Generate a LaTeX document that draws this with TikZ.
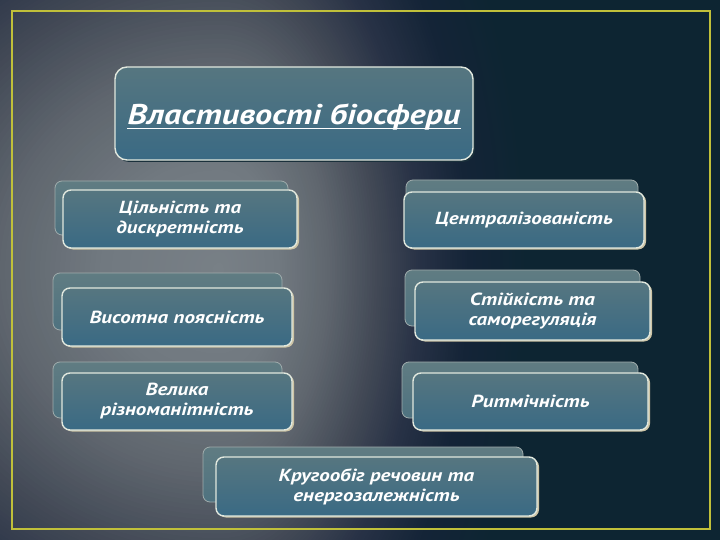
\documentclass[tikz,border=0pt]{standalone}
\usepackage{fontspec}
\setmainfont{PT Sans}[FakeStretch=1.2]
\definecolor{boxtop}{RGB}{86,118,128}
\definecolor{boxbot}{RGB}{58,106,132}
\definecolor{backtop}{RGB}{96,124,130}
\definecolor{backbot}{RGB}{78,114,128}
\definecolor{edgecream}{RGB}{225,232,222}
\definecolor{backedge}{RGB}{160,172,172}
\definecolor{beige}{RGB}{205,196,165}
\definecolor{frameyellow}{RGB}{192,192,58}
\definecolor{bgA}{RGB}{120,128,134}
\definecolor{bgB}{RGB}{113,121,128}
\definecolor{bgC}{RGB}{95,102,110}
\definecolor{bgD}{RGB}{65,72,85}
\definecolor{bgE}{RGB}{40,50,70}
\definecolor{bgF}{RGB}{20,36,55}
\definecolor{bgG}{RGB}{13,37,50}
\newcommand\bgring[4]{%
  \foreach \i in {0,...,20}{%
    \pgfmathsetmacro\rr{#2-(#2-#1)*\i/20}%
    \pgfmathsetmacro\ry{1.85*\rr}%
    \pgfmathsetmacro\pp{100-5*\i}%
    \fill[#4!\pp!#3] (220,{-270+\ry})
      arc[start angle=90, end angle=-90, x radius=\rr, y radius=\ry]
      arc[start angle=270, end angle=90, x radius={2*\rr}, y radius=\ry] -- cycle;}}
\tikzset{
  backbox/.style={rectangle, rounded corners=7pt, inner sep=0pt,
    top color=backtop, bottom color=backbot, draw=backedge, line width=0.8pt},
  frontbox/.style={rectangle, rounded corners=8pt, inner sep=0pt,
    top color=boxtop, bottom color=boxbot, draw=edgecream, line width=1.4pt,
    preaction={fill=beige, transform canvas={xshift=2pt,yshift=-1.5pt}},
    text=white, align=center,
    font=\fontsize{17.5}{20}\selectfont\bfseries\itshape},
  titlebox/.style={rectangle, rounded corners=12pt, inner sep=0pt,
    top color=boxtop, bottom color=boxbot, draw=edgecream, line width=1.4pt,
    preaction={fill=black!55!boxbot, transform canvas={xshift=2pt,yshift=-2pt}}},
  titletxt/.style={text=white, inner sep=0pt, anchor=base,
    font=\fontsize{28.5}{32}\selectfont\bfseries\itshape},
  frame/.style={draw=frameyellow, line width=2pt}
}
\begin{document}
\begin{tikzpicture}[x=1pt,y=-1pt]
\useasboundingbox (0,0) rectangle (720,540);
\begin{scope}
\clip (0,0) rectangle (720,540);
\fill[bgG] (0,0) rectangle (720,540);
\begin{scope}[y=1pt]
\bgring{250}{310}{bgF}{bgG}
\bgring{200}{250}{bgE}{bgF}
\bgring{160}{200}{bgD}{bgE}
\bgring{110}{160}{bgC}{bgD}
\bgring{60}{110}{bgB}{bgC}
\bgring{1}{60}{bgA}{bgB}
\end{scope}
\end{scope}
\node[frame, rectangle, minimum width=698pt, minimum height=518pt, inner sep=0pt] (fr) at (361,270) {};

% title
\node[titlebox, minimum width=358pt, minimum height=93pt] (title) at (294,113.5) {};
\node[titletxt] (titletext) at (294,125) {Властивості біосфери};
\draw[white, line width=1.6pt] ([yshift=-3.5pt]titletext.base west) -- ([yshift=-3.5pt]titletext.base east);

% left column
\node[backbox, minimum width=233pt, minimum height=54pt] (b1) at (171.5,208) {};
\node[frontbox, minimum width=234pt, minimum height=58pt] (f1) at (180,219) {Цільність та\\дискретність};

\node[backbox, minimum width=229pt, minimum height=57pt] (b2) at (167.5,301.5) {};
\node[frontbox, minimum width=230pt, minimum height=58pt] (f2) at (177,317) {Висотна поясність};

\node[backbox, minimum width=229pt, minimum height=56pt] (b3) at (167.5,390) {};
\node[frontbox, minimum width=230pt, minimum height=57pt] (f3) at (177,401.5) {Велика\\різноманітність};

% right column
\node[backbox, minimum width=232pt, minimum height=52pt] (b4) at (522,206) {};
\node[frontbox, minimum width=240pt, minimum height=56pt] (f4) at (524,220) {Централізованість};

\node[backbox, minimum width=235pt, minimum height=56pt] (b5) at (522.5,298) {};
\node[frontbox, minimum width=235pt, minimum height=58pt] (f5) at (532.5,311) {Стійкість та\\саморегуляція};

\node[backbox, minimum width=236pt, minimum height=56pt] (b6) at (520,390) {};
\node[frontbox, minimum width=235pt, minimum height=57pt] (f6) at (530.5,401.5) {Ритмічність};

% bottom
\node[backbox, minimum width=320pt, minimum height=55pt] (b7) at (363,474.5) {};
\node[frontbox, minimum width=321pt, minimum height=59pt] (f7) at (376.5,486.5) {Кругообіг речовин та\\енергозалежність};
\end{tikzpicture}
\end{document}
